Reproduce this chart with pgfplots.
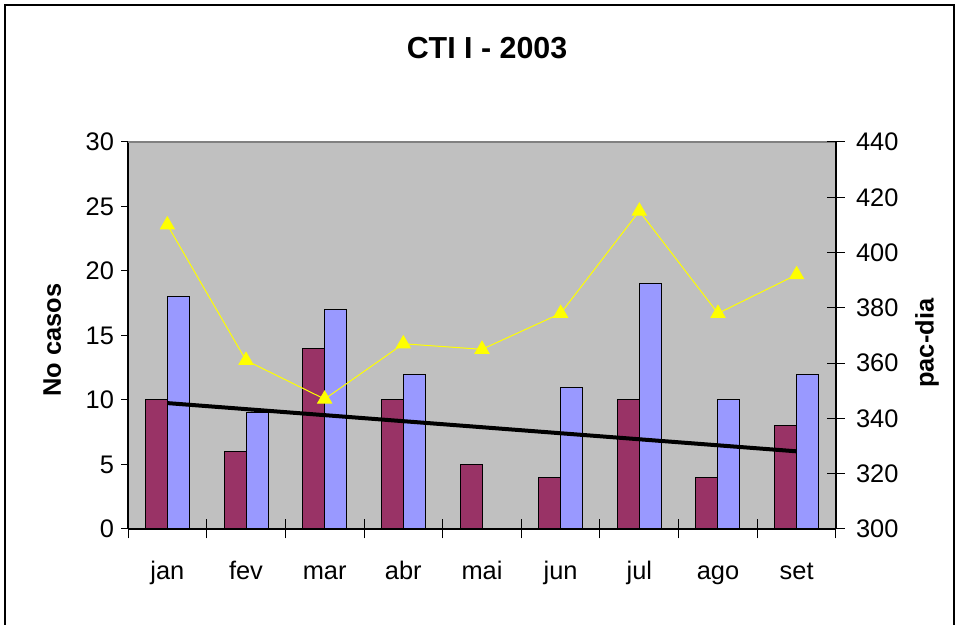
\documentclass[border=0pt]{standalone}
\usepackage{fontspec}
\setmainfont{Liberation Sans}
\usepackage{pgfplots}
\pgfplotsset{compat=1.18}
\definecolor{vinho}{HTML}{993366}
\definecolor{lilas}{HTML}{9999FF}
\definecolor{fundo}{HTML}{C0C0C0}
\definecolor{amarelo}{HTML}{FFFF00}

\begin{document}
\begin{tikzpicture}[x=0.5pt,y=0.5pt]
  \useasboundingbox (0,0) rectangle (958,625);
  \draw[line width=1pt] (5,0) -- (5,620) -- (954,620) -- (954,0);
  \node[font=\fontsize{15.2}{18}\selectfont\bfseries] at (487,576.5) {CTI I - 2003};

  % eixo esquerdo: casos
  \begin{axis}[
      at={(64pt,48pt)}, anchor=south west,
      scale only axis, width=354pt, height=193.5pt,
      xmin=-0.5, xmax=8.5, ymin=0, ymax=30,
      axis background/.style={fill=fundo},
      axis x line*=bottom, axis y line*=left,
      axis line style={-, black, line width=0.6pt},
      /pgf/number format/assume math mode=true,
      tick style={black, line width=0.5pt},
      tick align=outside, major tick length=3.5pt,
      ytick={0,5,...,30},
      xtick={0,...,8},
      xticklabels={jan,fev,mar,abr,mai,jun,jul,ago,set},
      major x tick style={draw=none},
      minor xtick={-0.5,0.5,...,8.5},
      minor tick length=9.5pt,
      minor x tick style={yshift=4.75pt},
      ticklabel style={font=\fontsize{12.7}{15}\selectfont},
      x tick label style={text height=9pt, text depth=2.5pt, yshift=-9pt},
      ylabel={No casos},
      every axis y label/.style={at={(axis description cs:-0.107,0.488)}, rotate=90, anchor=center,
        font=\fontsize{12.7}{15}\selectfont\bfseries},
    ]
    \draw[gray, line width=0.6pt] (rel axis cs:0,1) -- (rel axis cs:1,1);
    \addplot[ybar, bar width=11pt, bar shift=-5.5pt, fill=vinho, draw=black, line width=0.5pt]
      coordinates {(0,10) (1,6) (2,14) (3,10) (4,5) (5,4) (6,10) (7,4) (8,8)};
    \addplot[ybar, bar width=11pt, bar shift=5.5pt, fill=lilas, draw=black, line width=0.5pt]
      coordinates {(0,18) (1,9) (2,17) (3,12) (5,11) (6,19) (7,10) (8,12)};
    % linha de tendencia dos casos
    \addplot[black, line width=2pt] coordinates {(0,9.76) (8,6.02)};
  \end{axis}

  % eixo direito: pac-dia
  \begin{axis}[
      at={(64pt,48pt)}, anchor=south west,
      scale only axis, width=354pt, height=193.5pt,
      xmin=-0.5, xmax=8.5, ymin=300, ymax=440,
      axis x line=none, axis y line*=right,
      axis line style={-, black, line width=0.6pt},
      /pgf/number format/assume math mode=true,
      tick style={black, line width=0.5pt},
      tick align=center, major tick length=9pt,
      ytick={300,320,...,440},
      ticklabel style={font=\fontsize{12.7}{15}\selectfont},
      y tick label style={xshift=2pt},
      ylabel={pac-dia},
      every axis y label/.style={at={(axis description cs:1.1285,0.48)}, rotate=90, anchor=center,
        font=\fontsize{12.7}{15}\selectfont\bfseries},
    ]
    \addplot[amarelo, line width=0.5pt, mark=triangle*, mark size=4pt,
      mark options={fill=amarelo, draw=amarelo}]
      coordinates {(0,410) (1,361) (2,347) (3,367) (4,365) (5,378) (6,415) (7,378) (8,392)};
  \end{axis}
\end{tikzpicture}
\end{document}
